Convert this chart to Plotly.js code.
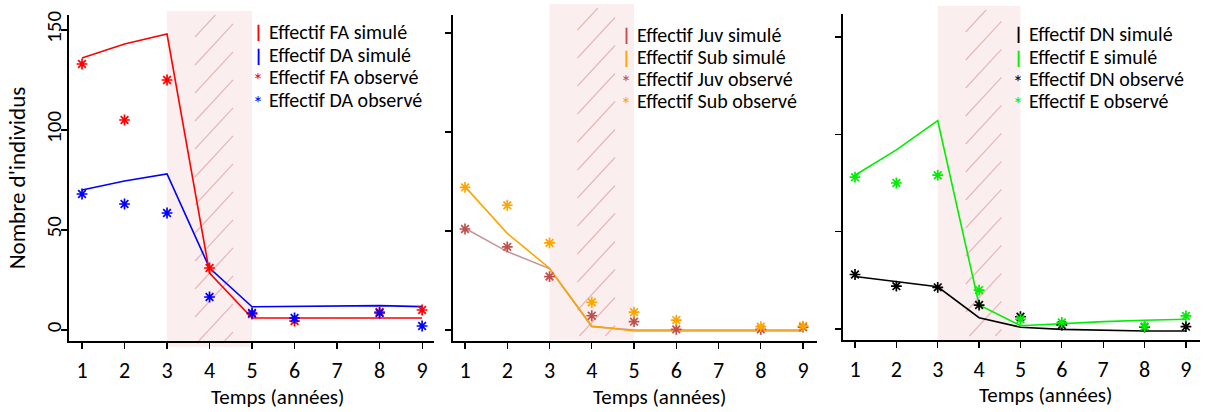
<!DOCTYPE html>
<html><head><meta charset="utf-8">
<script src="https://cdn.plot.ly/plotly-3.0.1.min.js"></script>
<style>html,body{margin:0;padding:0;background:#fff}#chart{width:1206px;height:412px}</style>
</head><body><div id="chart"></div>
<script>
// ---- data ----
const years = [1,2,3,4,5,6,7,8,9];
const yearsObs = [1,2,3,4,5,6,8,9];
const xTickLabels = ['1','2','3','4','5','6','7','8','9'];
const yTicks = [0,50,100,150];

// Panel 1
const faSim = [136,143,148,28.5,6,6,6,6,6];
const daSim = [70,74.5,78,31,11.6,11.8,12,12.2,11.7];
const faObs = [133,105,125,31,8,4.5,9,10];
const daObs = [68,63,58.5,16.5,8.5,6,8.5,2];
// Panel 2
const juvSim = [51.4,39.6,31,1.7,0,0,0,0,0];
const subSim = [72.4,48.8,31.2,2,-0.5,-0.5,-0.5,-0.5,-0.5];
const juvObs = [51,42,27,7.2,4.2,0.3,0.3,1.4];
const subObs = [72,63,44,14,9,5,1.7,2];
// Panel 3
const dnSim = [27,24.3,21.7,5.8,0.9,-0.2,-0.7,-1,-1];
const eSim = [79,92,107,12.3,1.7,2.9,3.8,4.5,5];
const dnObs = [28,22,21.4,12.3,6.3,2,1,1.2];
const eObs = [78,75,79,20,5,3.4,1.2,6.7];

const names1 = ['Effectif FA simulé','Effectif DA simulé','Effectif FA observé','Effectif DA observé'];
const names2 = ['Effectif Juv simulé','Effectif Sub simulé','Effectif Juv observé','Effectif Sub observé'];
const names3 = ['Effectif DN simulé','Effectif E simulé','Effectif DN observé','Effectif E observé'];
const xTitle = 'Temps (années)';
const yTitle = "Nombre d'individus";
const disturbStart = 3, disturbEnd = 5;

// ---- styling ----
const W = 1206, H = 412;
const FONT = 'Carlito, Calibri, Lato, sans-serif';
const px = v => v / W;
const py = v => 1 - v / H;

const colors = {
  fa:'#ff0000', da:'#0000ff',
  juvLine:'#c9959a', juv:'#c0504d', sub:'#ffa500',
  dn:'#000000', e:'#00ee00'
};

function simTrace(y, name, color, xa, ya){
  return {x: years, y: y, name: name, type:'scatter', mode:'lines',
    line:{color:color, width:1.6}, xaxis:xa, yaxis:ya, showlegend:false, hoverinfo:'x+y+name'};
}
function obsTrace(y, name, color, xa, ya){
  return {x: yearsObs, y: y, name: name, type:'scatter', mode:'markers',
    marker:{symbol:'asterisk-open', size:9, line:{color:color, width:1.7}, color:color},
    xaxis:xa, yaxis:ya, showlegend:false, hoverinfo:'x+y+name'};
}

const data = [
  simTrace(daSim, names1[1], colors.da, 'x','y'),
  simTrace(faSim, names1[0], colors.fa, 'x','y'),
  obsTrace(faObs, names1[2], colors.fa, 'x','y'),
  obsTrace(daObs, names1[3], colors.da, 'x','y'),
  simTrace(juvSim, names2[0], colors.juvLine, 'x2','y2'),
  simTrace(subSim, names2[1], colors.sub, 'x2','y2'),
  obsTrace(juvObs, names2[2], colors.juv, 'x2','y2'),
  obsTrace(subObs, names2[3], colors.sub, 'x2','y2'),
  simTrace(dnSim, names3[0], colors.dn, 'x3','y3'),
  simTrace(eSim, names3[1], colors.e, 'x3','y3'),
  obsTrace(dnObs, names3[2], colors.dn, 'x3','y3'),
  obsTrace(eObs, names3[3], colors.e, 'x3','y3')
];

// panel geometry (pixels)
const panels = [
  {xl:69, xr:434, yt:15, yb:341, xr0:0.694, xr1:9.28, yr:[-5.5,157.5], bandTop:11, bandBot:347, labels:true,
   leg:{sym:258, txt:268, rows:[32,55,77,100]}, names:names1,
   legColors:[colors.fa, colors.da, colors.fa, colors.da], xt:{x:277,y:397}},
  {xl:453, xr:817, yt:15, yb:341, xr0:0.716, xr1:9.33, yr:[-5.56,159.1], bandTop:4, bandBot:340, labels:false,
   leg:{sym:626, txt:636, rows:[35,57,79,101]}, names:names2,
   legColors:[colors.juv, colors.sub, colors.juv, colors.sub], xt:{x:660,y:397}},
  {xl:843, xr:1200, yt:14, yb:340, xr0:0.71, xr1:9.34, yr:[-5.65,161.8], bandTop:6, bandBot:340, labels:false,
   leg:{sym:1018, txt:1028, rows:[34,57,79,101]}, names:names3,
   legColors:[colors.dn, colors.e, colors.dn, colors.e], xt:{x:1045,y:395}}
];

const layout = {
  width: W, height: H,
  margin:{l:0,r:0,t:0,b:0},
  paper_bgcolor:'#ffffff', plot_bgcolor:'rgba(0,0,0,0)',
  showlegend:false,
  font:{family:FONT, size:21, color:'#000'},
  shapes:[], annotations:[]
};

panels.forEach((p, i) => {
  const s = i === 0 ? '' : String(i+1);
  layout['xaxis'+s] = {
    domain:[px(p.xl), px(p.xr)], range:[p.xr0, p.xr1], anchor:'y'+s,
    tickmode:'array', tickvals:years, ticktext:xTickLabels,
    showline:true, linecolor:'#000', linewidth:1.8, ticks:'outside', ticklen:6, tickwidth:1.2, tickcolor:'#000',
    ticklabelstandoff:3,
    showgrid:false, zeroline:false, tickfont:{family:FONT, size:22, color:'#000'}
  };
  layout['yaxis'+s] = {
    domain:[py(p.yb), py(p.yt)], range:p.yr, anchor:'x'+s,
    tickmode:'array', tickvals:yTicks, ticktext:yTicks.map(String),
    showticklabels:p.labels, tickangle:-90, ticklabelstandoff:-8,
    showline:true, linecolor:'#000', linewidth:1.8, ticks:'outside', ticklen:6, tickwidth:1.2, tickcolor:'#000',
    showgrid:false, zeroline:false, tickfont:{family:FONT, size:21, color:'#000'}
  };
  if (i === 0) {
    layout.yaxis.title = {text:yTitle, font:{family:FONT, size:23, color:'#000'}, standoff:9};
  }
  // shaded disturbance band
  layout.shapes.push({type:'rect', xref:'x'+s, yref:'paper', x0:disturbStart, x1:disturbEnd,
    y0:py(p.bandBot), y1:py(p.bandTop), fillcolor:'#faeeee', line:{width:0}, layer:'below'});
  // hatching (pixel geometry)
  const pxPerUnit = (p.xr - p.xl) / (p.xr1 - p.xr0);
  const bandL = p.xl + (disturbStart - p.xr0) * pxPerUnit;
  const bandR = p.xl + (disturbEnd - p.xr0) * pxPerUnit;
  const hx0 = bandL + 28, hx1 = bandR - 19;
  const slope = 1.08;
  const top = p.bandTop + 4, bot = p.bandBot - 4;
  for (let yl = top + 22; yl < bot + 40; yl += 28) {
    let x0 = hx0, y0 = yl, x1 = hx1, y1 = yl - (hx1 - hx0) * slope;
    if (y1 < top) { x1 = hx0 + (yl - top) / slope; y1 = top; }
    if (y0 > bot) { x0 = hx0 + (y0 - bot) / slope; y0 = bot; }
    if (x0 >= x1) continue;
    layout.shapes.push({type:'line', xref:'paper', yref:'paper', x0:px(x0), y0:py(y0), x1:px(x1), y1:py(y1),
      line:{color:'#e8b8b8', width:1.2}, layer:'below'});
  }
  // legend (as annotations)
  p.names.forEach((nm, k) => {
    const sim = k < 2;
    layout.annotations.push({xref:'paper', yref:'paper', x:px(p.leg.sym), y:py(p.leg.rows[k] + (sim ? 0 : 3)),
      xanchor:'center', yanchor:'middle', showarrow:false, text: sim ? '<b>|</b>' : '*', borderpad:0,
      font:{family:FONT, size: sim ? 19 : 20, color:p.legColors[k]}});
    layout.annotations.push({xref:'paper', yref:'paper', x:px(p.leg.txt), y:py(p.leg.rows[k]),
      xanchor:'left', yanchor:'middle', showarrow:false, text:nm, borderpad:0,
      font:{family:FONT, size:20, color:'#000'}});
  });
  // x axis title
  layout.annotations.push({xref:'paper', yref:'paper', x:px(p.xt.x), y:py(p.xt.y),
    xanchor:'center', yanchor:'middle', showarrow:false, text:xTitle,
    font:{family:FONT, size:21, color:'#000'}});
});

Plotly.newPlot('chart', data, layout, {staticPlot:true, displayModeBar:false});
</script>
</body></html>
